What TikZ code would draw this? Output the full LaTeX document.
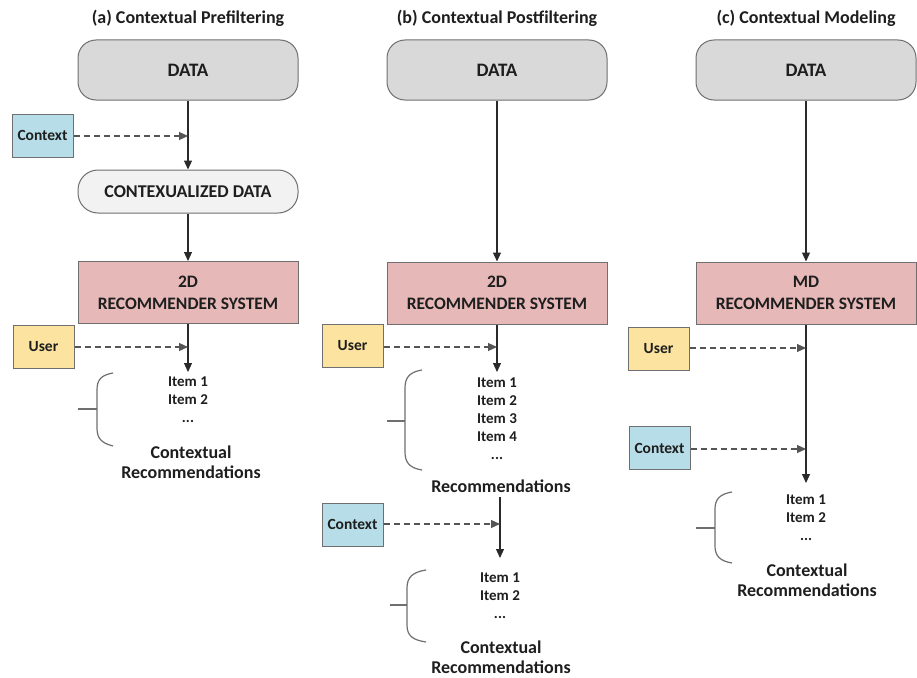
\documentclass[tikz,border=0pt]{standalone}
\usepackage{fontspec}
\setmainfont{Carlito}
\usetikzlibrary{arrows.meta}
\definecolor{txt}{HTML}{1E1E1E}
\definecolor{edge}{HTML}{6F6F6F}
\definecolor{wire}{HTML}{2A2A2A}
\definecolor{datafill}{HTML}{D9D9D9}
\definecolor{cdatafill}{HTML}{F2F2F2}
\definecolor{recfill}{HTML}{E6B9B8}
\definecolor{ctxfill}{HTML}{B7DEE8}
\definecolor{userfill}{HTML}{FCE3A0}
\tikzset{
  x=1pt, y=-1pt,
  every node/.style={text=txt, font=\bfseries},
  title/.style={font=\bfseries\fontsize{18}{21}\selectfont},
  databox/.style={draw=edge, line width=1pt, fill=datafill, rounded corners=18pt,
    minimum width=220pt, minimum height=60pt, font=\bfseries\fontsize{19}{22}\selectfont},
  cdatabox/.style={draw=edge, line width=1pt, fill=cdatafill, rounded corners=20pt,
    minimum width=220pt, minimum height=43pt, font=\bfseries\fontsize{18}{21}\selectfont},
  recbox/.style={draw=edge, line width=1pt, fill=recfill, minimum width=220pt,
    minimum height=62pt, align=center, font=\bfseries\fontsize{17.5}{22}\selectfont},
  ctxbox/.style={draw=edge, line width=1pt, fill=ctxfill, minimum width=61pt,
    minimum height=43pt, inner sep=0pt, font=\bfseries\fontsize{15.5}{18}\selectfont},
  userbox/.style={draw=edge, line width=1pt, fill=userfill, minimum width=61pt,
    minimum height=43pt, inner sep=0pt, font=\bfseries\fontsize{15.5}{18}\selectfont},
  items/.style={align=center, inner sep=0pt, anchor=north, font=\bfseries\fontsize{15}{18}\selectfont},
  recs/.style={align=center, inner sep=0pt, font=\bfseries\fontsize{18}{20}\selectfont},
  flow/.style={draw=wire, line width=1.1pt, -{Triangle[length=9pt,width=8pt]}},
  feed/.style={draw=wire!80, line width=1.1pt, dash pattern=on 6pt off 4pt,
    -{Triangle[length=9pt,width=8pt]}},
  bracket/.style={draw=edge, line width=1.2pt},
}
\begin{document}
\begin{tikzpicture}
\useasboundingbox[fill=white] (0,0) rectangle (917,677);

% ---------- (a) Contextual Prefiltering ----------
\node[title] (titleA) at (188,18) {(a) Contextual Prefiltering};
\node[databox] (dataA) at (188,70) {DATA};
\node[ctxbox] (ctxA) at (42.5,135.5) {Context};
\node[cdatabox] (cdataA) at (188,191.5) {CONTEXUALIZED DATA};
\node[recbox] (recA) at (188,292.5) {2D\\RECOMMENDER SYSTEM};
\node[userbox] (userA) at (43.5,346.5) {User};
\coordinate (joinA1) at (188,136);
\coordinate (joinA2) at (188,347);
\coordinate (endA) at (188,372);
\draw[flow] (dataA) -- (cdataA);
\draw[flow] (cdataA) -- (recA);
\draw[flow] (recA) -- (endA);
\draw[feed] (ctxA.east |- joinA1) -- (joinA1);
\draw[feed] (userA.east |- joinA2) -- (joinA2);
\node[items] (itemsA) at (188,377) {Item 1\\Item 2\\...};
\node[recs] (recsA) at (191,462) {Contextual\\Recommendations};
\draw[bracket] (113,373) .. controls (101,375) and (97,380) .. (97,390)
  -- (97,428) .. controls (97,438) and (101,443) .. (113,446);
\draw[bracket] (78,409) -- (97,409);

% ---------- (b) Contextual Postfiltering ----------
\node[title] (titleB) at (497,18) {(b) Contextual Postfiltering};
\node[databox] (dataB) at (497,70) {DATA};
\node[recbox] (recB) at (497,293) {2D\\RECOMMENDER SYSTEM};
\node[userbox] (userB) at (352.5,346) {User};
\coordinate (joinB1) at (497,347);
\coordinate (endB1) at (497,372);
\draw[flow] (dataB) -- (recB);
\draw[flow] (recB) -- (endB1);
\draw[feed] (userB.east |- joinB1) -- (joinB1);
\node[items] (itemsB) at (497,378) {Item 1\\Item 2\\Item 3\\Item 4\\...};
\draw[bracket] (422,370) .. controls (410,372) and (405,377) .. (405,388)
  -- (405,452) .. controls (405,463) and (410,468) .. (422,470);
\draw[bracket] (387,421) -- (405,421);
\node[recs] (recsB) at (501,486) {Recommendations};
\node[ctxbox] (ctxB) at (352.5,524.5) {Context};
\coordinate (startB2) at (500,497);
\coordinate (joinB2) at (500,524);
\coordinate (endB2) at (500,558);
\draw[flow] (startB2) -- (endB2);
\draw[feed] (ctxB.east |- joinB2) -- (joinB2);
\node[items] (itemsB2) at (500,573) {Item 1\\Item 2\\...};
\draw[bracket] (426,570) .. controls (413,572) and (407,577) .. (407,588)
  -- (407,625) .. controls (407,636) and (413,640) .. (426,642);
\draw[bracket] (390,605) -- (407,605);
\node[recs] (recsB2) at (501,657) {Contextual\\Recommendations};

% ---------- (c) Contextual Modeling ----------
\node[title] (titleC) at (806,18) {(c) Contextual Modeling};
\node[databox] (dataC) at (806,70) {DATA};
\node[recbox] (recC) at (806,293) {MD\\RECOMMENDER SYSTEM};
\node[userbox] (userC) at (658.5,349) {User};
\node[ctxbox] (ctxC) at (659.5,448) {Context};
\coordinate (joinC1) at (806,348);
\coordinate (joinC2) at (806,449);
\coordinate (endC) at (806,483);
\draw[flow] (dataC) -- (recC);
\draw[flow] (recC) -- (endC);
\draw[feed] (userC.east |- joinC1) -- (joinC1);
\draw[feed] (ctxC.east |- joinC2) -- (joinC2);
\node[items] (itemsC) at (806,495) {Item 1\\Item 2\\...};
\draw[bracket] (732,492) .. controls (720,494) and (715,499) .. (715,509)
  -- (715,546) .. controls (715,556) and (720,561) .. (732,563);
\draw[bracket] (696,528) -- (715,528);
\node[recs] (recsC) at (807,580) {Contextual\\Recommendations};
\end{tikzpicture}
\end{document}
